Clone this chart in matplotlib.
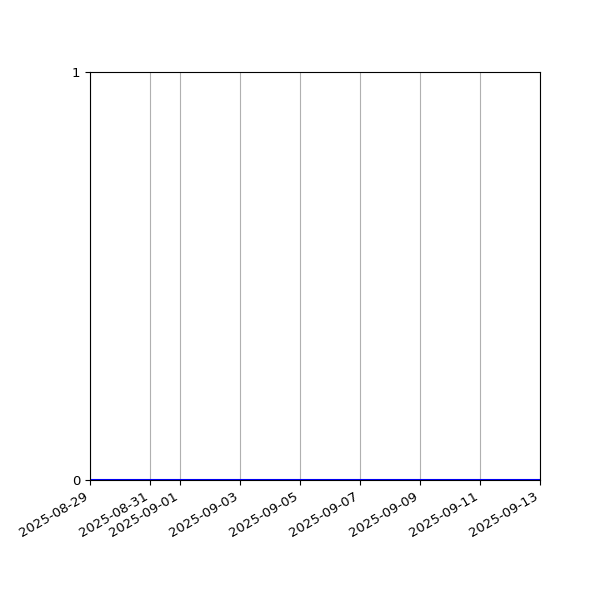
import matplotlib
matplotlib.use("Agg")
import matplotlib.pyplot as plt
import matplotlib.dates as mdates
import pandas as pd

dates = pd.date_range("2025-08-29", "2025-09-13", freq="D")
values = [0] * len(dates)
y_ticks = [0, 1]

fig, ax = plt.subplots(figsize=(6, 6), dpi=100)
ax.plot(dates, values, color="blue", linewidth=1.5)
ax.set_xlim(dates[0], dates[-1])
ax.set_ylim(0, 1)
ax.set_yticks(y_ticks)
ax.xaxis.set_major_locator(mdates.DayLocator(bymonthday=range(1, 32, 2)))
ax.xaxis.set_major_formatter(mdates.DateFormatter("%Y-%m-%d"))
ax.grid(True, axis="x")
ax.tick_params(axis="both", labelsize=9.5)
fig.autofmt_xdate()
fig.subplots_adjust(left=0.15, right=0.9, top=0.88, bottom=0.2)
fig.savefig("out.png", dpi=100)
